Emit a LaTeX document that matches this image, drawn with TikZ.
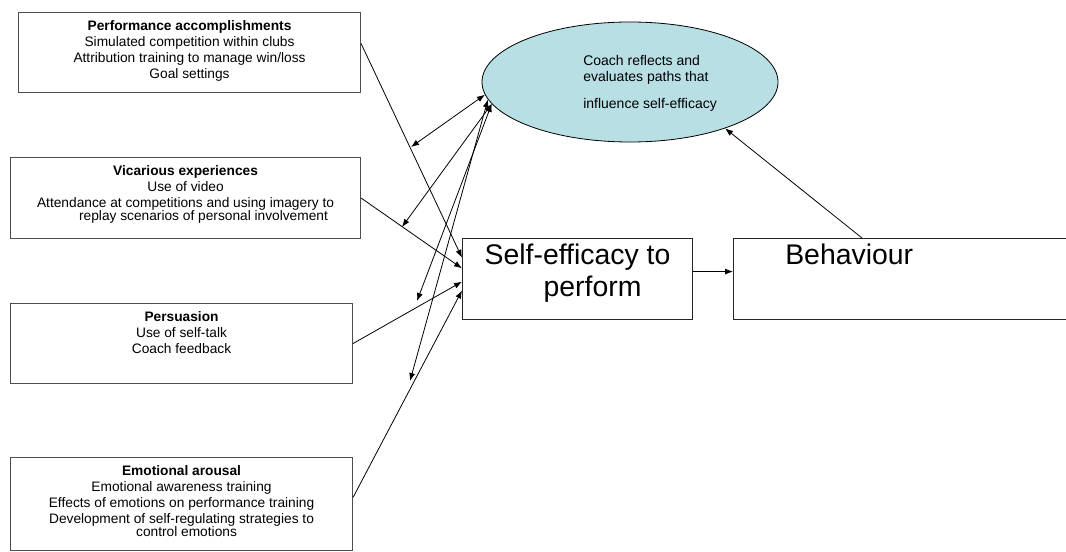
\documentclass[tikz,border=0pt]{standalone}
\usepackage{fontspec}
\setmainfont{Liberation Sans}
\usepackage{xcolor}
\usetikzlibrary{arrows.meta,shapes.geometric,positioning}

\definecolor{coachfill}{RGB}{184,223,228}

\tikzset{
	srcbox/.style={draw=black!70, line width=0.8pt, anchor=north west, inner sep=0pt},
	srctext/.style={anchor=north, inner sep=0pt, align=center, font=\fontsize{10.3}{12}\selectfont},
	bigbox/.style={draw=black!85, line width=0.8pt, anchor=north west, inner sep=0pt, minimum height=60.75pt},
	bigtext/.style={inner sep=0pt, align=center, font=\fontsize{21.3}{24}\selectfont},
	path/.style={->, line width=0.6pt},
	twoway/.style={<->, line width=0.6pt},
	>={Latex[length=6pt,width=4.5pt]}
}

\begin{document}
\begin{tikzpicture}[x=0.75pt,y=-0.75pt]
	\path[use as bounding box, clip] (0,0) rectangle (1066,552);

	% the four sources
	\node[srcbox, minimum width=256.5pt, minimum height=60pt] (perf) at (18,12) {};
	\node[srctext, below=6pt of perf.north] (perftext) {\textbf{Performance accomplishments}\\
		Simulated competition within clubs\\
		Attribution training to manage win/loss\\
		Goal settings};

	\node[srcbox, minimum width=262.5pt, minimum height=60.75pt] (vic) at (10,157) {};
	\node[srctext, below=6pt of vic.north] (victext) {\textbf{Vicarious experiences}\\
		Use of video\\
		Attendance at competitions and using imagery to\\[-1.8pt]
		\hspace*{27pt}replay scenarios of personal involvement};

	\node[srcbox, minimum width=256.5pt, minimum height=60pt] (pers) at (10,303) {};
	\node[srctext, below=6pt of pers.north] (perstext) {\textbf{Persuasion}\\
		Use of self-talk\\
		Coach feedback};

	\node[srcbox, minimum width=256.5pt, minimum height=69.75pt] (emo) at (10,457) {};
	\node[srctext, below=6pt of emo.north] (emotext) {\textbf{Emotional arousal}\\
		Emotional awareness training\\
		Effects of emotions on performance training\\
		Development of self-regulating strategies to\\[-1.8pt]
		\hspace*{7.5pt}control emotions};

	% reflection
	\node[ellipse, draw, fill=coachfill, line width=0.6pt, minimum width=222pt, minimum height=90pt] (coach) at (630,82) {};
	\node[anchor=north west, inner sep=0pt, align=left, font=\fontsize{10.5}{12}\selectfont] (coachtext) at (583,55)
		{Coach reflects and\\ evaluates paths that\\[8.25pt] influence self-efficacy};

	% outcome chain
	\node[bigbox, minimum width=172.5pt] (se) at (462,238) {};
	\node[bigtext, anchor=north, below=4.5pt of se.north] (setext) {Self-efficacy to\\ \hspace*{22.5pt}perform};

	\node[bigbox, minimum width=255pt] (beh) at (733,238) {};
	\node[bigtext, anchor=north west, below right=4.5pt and 39pt of beh.north west] (behtext) {Behaviour};

	\coordinate (behtop) at ([xshift=96.75pt]beh.north west);
	\coordinate (endA) at (411,147);
	\coordinate (endB) at (402,227);
	\coordinate (endC) at (417,301);
	\coordinate (endD) at (410,381);

	\path[path]
		([yshift=6.75pt]perf.east) edge ([yshift=16pt]se.west)
		(vic.east) edge ([yshift=8pt]se.west)
		(pers.east) edge ([yshift=-2pt]se.west)
		([yshift=5pt]emo.east) edge ([yshift=-8.6pt]se.west)
		([yshift=5.6pt]se.east) edge ([yshift=5.6pt]beh.west)
		(behtop) edge (coach.334);

	\path[twoway]
		(coach.185) edge (endA)
		(coach.189) edge (endB)
		(coach.189) edge (endC)
		(coach.187) edge (endD);
\end{tikzpicture}
\end{document}
